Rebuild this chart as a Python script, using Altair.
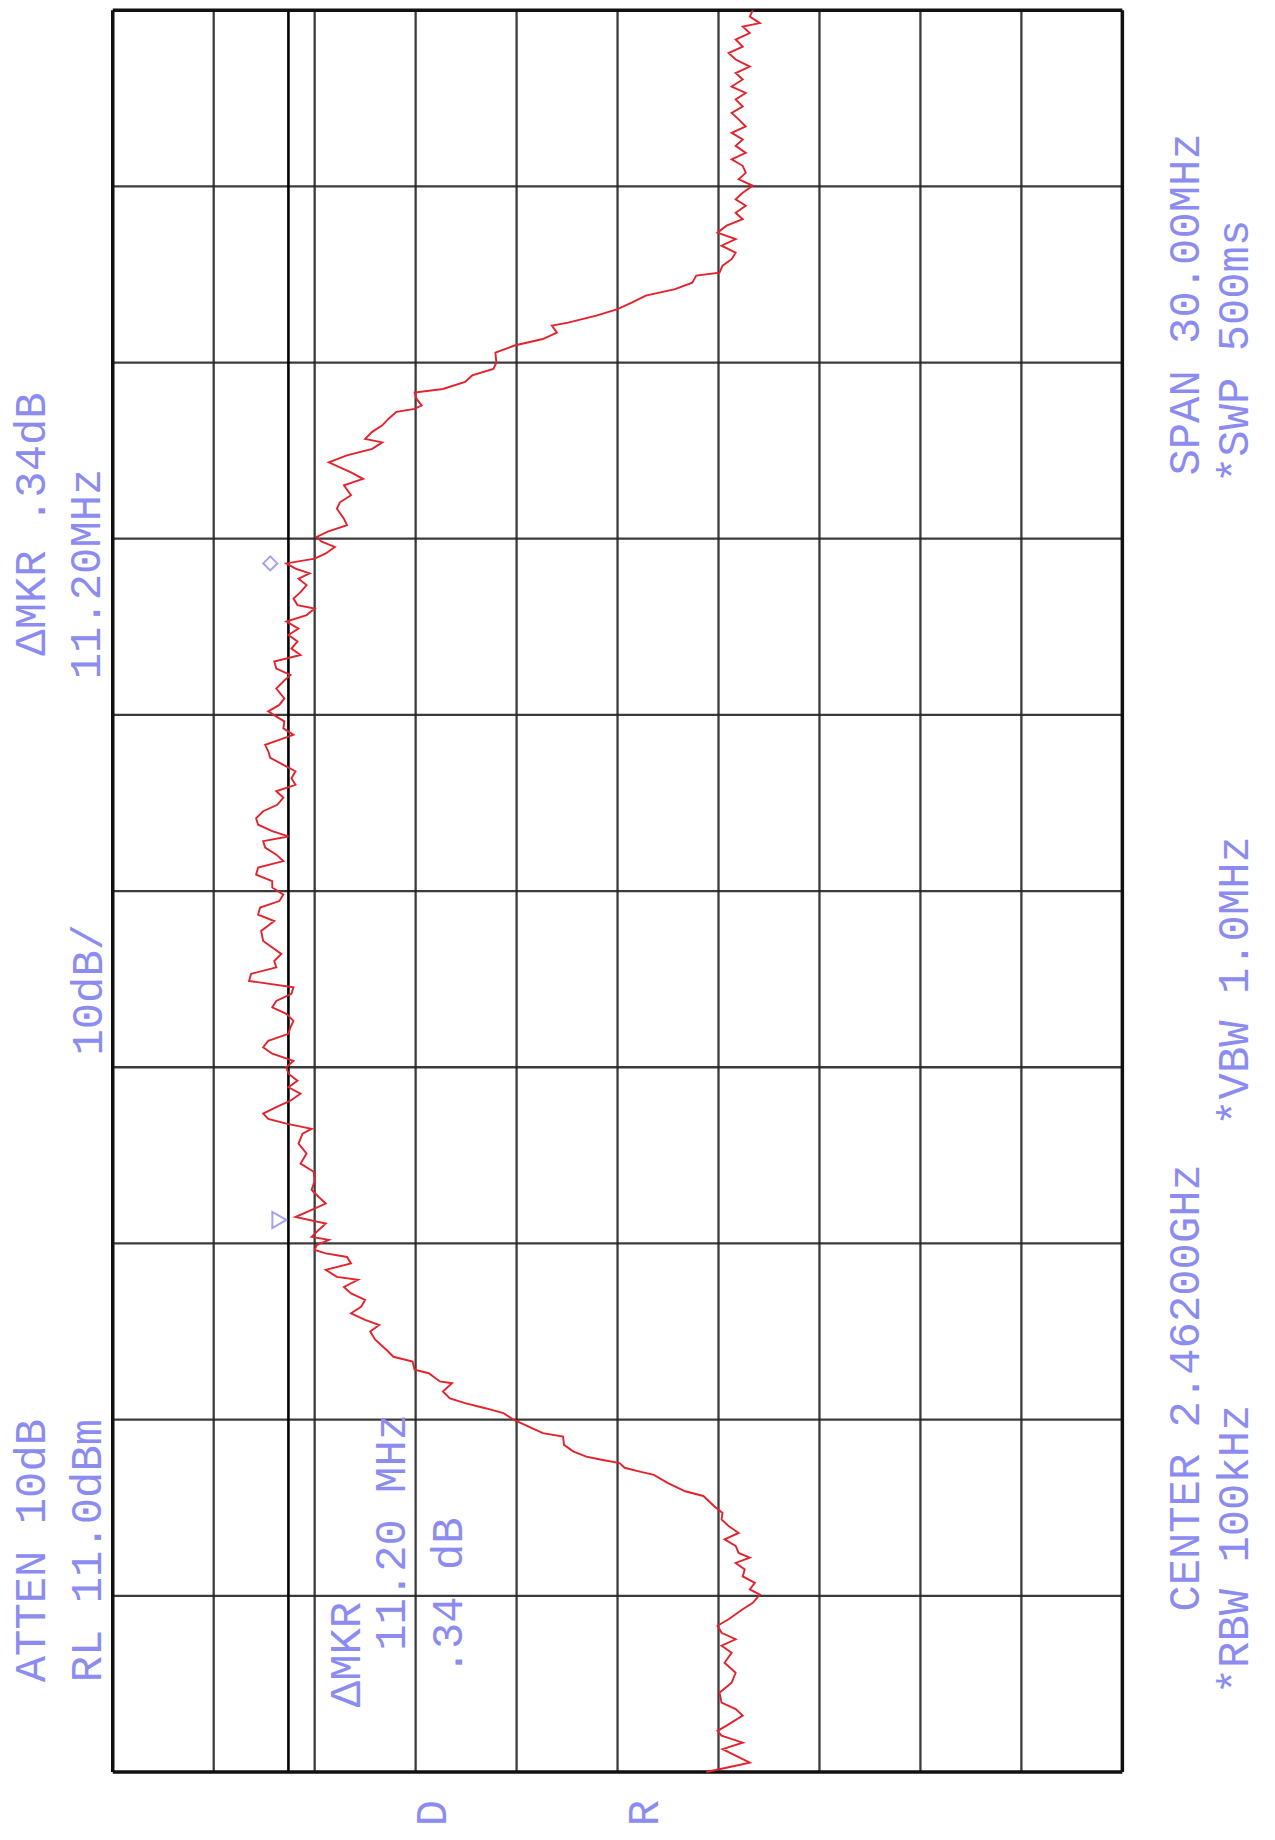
import altair as alt
import pandas as pd

# ---------------- data (frequency MHz, level dBm) ----------------
# lower noise floor and rising skirt
TRACE_LOW = [
    (2447.00, -47.8), (2447.08, -50.0), (2447.16, -52.1), (2447.28, -50.7), (2447.39, -49.4),
    (2447.50, -51.4), (2447.62, -49.3), (2447.70, -48.9), (2447.79, -49.8), (2447.96, -51.4),
    (2448.07, -50.7), (2448.18, -49.3), (2448.35, -49.1), (2448.52, -50.3), (2448.69, -50.7),
    (2448.86, -49.6), (2449.03, -50.3), (2449.15, -49.3), (2449.26, -50.7), (2449.37, -49.3),
    (2449.49, -48.9), (2449.60, -50.0), (2449.77, -51.4), (2449.88, -52.4), (2450.02, -53.1),
    (2450.11, -52.1), (2450.22, -52.6), (2450.33, -51.4), (2450.45, -51.6), (2450.56, -50.7),
    (2450.65, -52.1), (2450.73, -51.0), (2450.85, -50.7), (2450.96, -49.6), (2451.07, -51.0),
    (2451.19, -50.0), (2451.30, -49.3), (2451.41, -49.4), (2451.52, -48.6), (2451.70, -47.5),
    (2451.78, -45.7), (2451.92, -44.0), (2452.06, -42.6), (2452.12, -41.1), (2452.18, -39.7),
    (2452.26, -39.2), (2452.32, -37.3), (2452.37, -35.9), (2452.46, -34.6), (2452.57, -33.7),
    (2452.71, -33.6), (2452.77, -31.6), (2452.88, -30.2), (2452.99, -28.8), (2453.11, -27.7),
    (2453.19, -26.0), (2453.28, -23.9), (2453.36, -22.4), (2453.48, -21.7), (2453.62, -22.6),
    (2453.65, -21.4), (2453.79, -20.3), (2453.85, -18.9), (2453.99, -18.7), (2454.07, -16.8),
    (2454.19, -16.1), (2454.36, -15.0), (2454.50, -14.5), (2454.61, -15.4), (2454.70, -14.0),
]
# passband, lower half
TRACE_PASS_A = [
    (2454.81, -12.6), (2454.92, -13.6), (2455.04, -14.0), (2455.15, -12.6), (2455.26, -11.9),
    (2455.38, -13.3), (2455.43, -11.2), (2455.55, -10.1), (2455.66, -12.6), (2455.77, -12.2),
    (2455.83, -10.1), (2455.89, -9.0), (2455.97, -9.2), (2456.06, -10.4), (2456.11, -8.7),
    (2456.23, -9.4), (2456.34, -10.1), (2456.45, -7.1), (2456.57, -8.7), (2456.68, -10.1),
    (2456.79, -9.4), (2456.91, -8.7), (2457.07, -9.0), (2457.22, -8.9), (2457.36, -7.6),
    (2457.53, -8.2), (2457.70, -7.4), (2457.87, -7.8), (2457.95, -8.7), (2458.04, -6.2),
    (2458.12, -4.4), (2458.21, -3.9), (2458.32, -5.2), (2458.43, -6.6), (2458.55, -7.6),
    (2458.66, -6.4), (2458.77, -7.3), (2458.89, -6.4), (2459.00, -6.2), (2459.11, -6.9),
    (2459.23, -4.8), (2459.34, -3.9), (2459.45, -4.4), (2459.57, -6.4), (2459.68, -6.6),
    (2459.79, -6.9), (2459.91, -6.2), (2460.02, -4.8), (2460.13, -5.2), (2460.25, -6.7),
    (2460.36, -6.9), (2460.47, -2.5), (2460.59, -2.7), (2460.70, -5.2), (2460.81, -5.0),
    (2460.93, -5.7), (2461.04, -4.8), (2461.15, -3.9), (2461.32, -3.7), (2461.49, -5.0),
    (2461.60, -3.4), (2461.72, -3.6), (2461.83, -5.5), (2461.94, -5.9), (2462.06, -4.8),
]
# passband, upper half
TRACE_PASS_B = [
    (2462.17, -4.8), (2462.28, -3.2), (2462.40, -3.4), (2462.51, -5.9), (2462.62, -5.2),
    (2462.74, -4.1), (2462.85, -3.9), (2462.93, -6.4), (2463.02, -4.8), (2463.13, -3.4),
    (2463.24, -3.2), (2463.36, -3.9), (2463.47, -5.3), (2463.59, -5.9), (2463.70, -5.2),
    (2463.81, -7.1), (2463.92, -6.7), (2464.04, -7.1), (2464.15, -5.9), (2464.27, -4.6),
    (2464.38, -4.4), (2464.49, -4.1), (2464.66, -6.9), (2464.77, -5.9), (2464.89, -6.0),
    (2464.97, -5.2), (2465.06, -4.4), (2465.17, -5.5), (2465.28, -6.0), (2465.45, -5.2),
    (2465.57, -5.9), (2465.68, -6.6), (2465.79, -5.2), (2465.91, -5.0), (2466.02, -7.6),
    (2466.13, -6.7), (2466.25, -7.3), (2466.36, -6.4), (2466.47, -7.4), (2466.59, -6.2),
    (2466.70, -8.2), (2466.81, -9.0), (2466.87, -7.3), (2466.98, -6.9), (2467.09, -7.6),
    (2467.21, -8.2), (2467.32, -7.4), (2467.41, -8.5), (2467.49, -7.1), (2467.58, -6.2),
    (2467.66, -9.0), (2467.75, -10.1), (2467.86, -11.0), (2467.95, -9.7), (2468.03, -9.2),
    (2468.12, -10.3), (2468.23, -12.2), (2468.34, -11.9), (2468.51, -11.2), (2468.62, -11.5),
    (2468.74, -12.6), (2468.91, -11.9), (2469.02, -13.8), (2469.13, -12.6), (2469.30, -10.4),
    (2469.42, -12.2), (2469.53, -14.7), (2469.64, -15.7),
]
# falling skirt and upper noise floor
TRACE_HIGH = [
    (2469.70, -14.0), (2469.82, -14.7), (2469.93, -15.7), (2470.04, -16.3), (2470.16, -17.1),
    (2470.21, -18.9), (2470.27, -19.6), (2470.38, -19.1), (2470.49, -18.9), (2470.55, -21.7),
    (2470.67, -23.9), (2470.78, -24.6), (2470.89, -26.7), (2471.00, -27.0), (2471.17, -26.9),
    (2471.29, -28.8), (2471.40, -31.6), (2471.51, -33.0), (2471.63, -32.5), (2471.68, -34.1),
    (2471.80, -36.9), (2471.91, -39.0), (2472.02, -40.4), (2472.14, -41.8), (2472.25, -44.7),
    (2472.36, -46.4), (2472.48, -46.8), (2472.53, -49.1), (2472.65, -49.4), (2472.76, -50.3),
    (2472.87, -50.7), (2472.99, -49.3), (2473.10, -50.7), (2473.21, -48.9), (2473.33, -49.8),
    (2473.44, -51.4), (2473.55, -50.7), (2473.67, -51.7), (2473.78, -50.7), (2473.89, -51.4),
    (2474.01, -52.4), (2474.12, -51.0), (2474.23, -51.7), (2474.35, -51.4), (2474.46, -50.3),
    (2474.57, -51.7), (2474.69, -50.7), (2474.80, -51.4), (2474.91, -50.3), (2475.02, -51.7),
    (2475.14, -51.0), (2475.25, -50.3), (2475.36, -51.4), (2475.48, -50.7), (2475.59, -51.7),
    (2475.70, -50.3), (2475.82, -51.4), (2475.93, -50.7), (2476.04, -52.1), (2476.16, -50.7),
    (2476.27, -50.0), (2476.38, -51.4), (2476.50, -50.7), (2476.61, -52.1), (2476.72, -51.4),
    (2476.78, -53.1), (2476.89, -52.1), (2477.00, -52.4),
]

# graticule: 10 dB/div from RL 11.0 dBm, 3 MHz/div around 2462 MHz
REF_LEVEL = 11.0
BOTTOM_LEVEL = -89.0
START_FREQ = 2447.0
STOP_FREQ = 2477.0
GRID_LEVELS = [1, -9, -19, -29, -39, -49, -59, -69, -79]
GRID_FREQS = [2450, 2453, 2456, 2459, 2462, 2465, 2468, 2471, 2474]
DISPLAY_LINE = [-6.4]

# markers
MARKER_REF = [("ref", 2456.40, -5.5)]
MARKER_DELTA = [("delta", 2467.58, -4.6)]

# annotations (text, level dBm, freq MHz)
ANNOTATIONS = [
    ("ATTEN 10dB", 19.0, 2450.77),
    ("RL 11.0dBm", 13.4, 2450.77),
    ("10dB/", 13.3, 2460.32),
    ("\u0394MKR .34dB", 19.0, 2468.25),
    ("11.20MHz", 13.5, 2467.40),
    ("SPAN 30.00MHz", -95.3, 2471.99),
    ("*SWP 500ms", -100.2, 2471.19),
    ("CENTER 2.46200GHz", -95.3, 2453.54),
    ("*RBW 100kHz", -100.2, 2450.79),
    ("*VBW 1.0MHz", -100.2, 2460.47),
    ("\u0394MKR", -12.2, 2449.00),
    ("11.20 MHz", -16.7, 2451.08),
    (".34 dB", -22.3, 2449.99),
    ("D", -20.7, 2446.30),
    ("R", -41.7, 2446.30),
]

# ---------------- build ----------------
rows = []
for seg in (TRACE_LOW, TRACE_PASS_A, TRACE_PASS_B, TRACE_HIGH):
    for f, l in seg:
        rows.append({"freq": f, "level": l})
trace_df = pd.DataFrame(rows)

XS = alt.Scale(domain=[BOTTOM_LEVEL, REF_LEVEL], reverse=True, nice=False, zero=False)
YS = alt.Scale(domain=[START_FREQ, STOP_FREQ], nice=False, zero=False)

def X(field="level"):
    return alt.X(f"{field}:Q", scale=XS, axis=None)

def Y(field="freq"):
    return alt.Y(f"{field}:Q", scale=YS, axis=None)

grid_color = "#262626"

vgrid = alt.Chart(pd.DataFrame({"level": GRID_LEVELS})).mark_rule(
    color=grid_color, strokeWidth=2.3, opacity=0.9
).encode(x=X())

hgrid = alt.Chart(pd.DataFrame({"freq": GRID_FREQS})).mark_rule(
    color=grid_color, strokeWidth=2.3, opacity=0.9
).encode(y=Y())

frame_v = alt.Chart(pd.DataFrame({"level": [REF_LEVEL, BOTTOM_LEVEL]})).mark_rule(
    color="#111111", strokeWidth=3.5
).encode(x=X())

frame_h = alt.Chart(pd.DataFrame({"freq": [START_FREQ, STOP_FREQ]})).mark_rule(
    color="#111111", strokeWidth=3.5
).encode(y=Y())

dline = alt.Chart(pd.DataFrame({"level": DISPLAY_LINE})).mark_rule(
    color="#000000", strokeWidth=2.6
).encode(x=X())

trace = alt.Chart(trace_df).mark_line(
    color="#e3222b", strokeWidth=1.9, interpolate="linear"
).encode(x=X(), y=Y(), order=alt.Order("freq:Q"))

mk_ref = alt.Chart(pd.DataFrame(MARKER_REF, columns=["name", "freq", "level"])).mark_point(
    shape="triangle-right", filled=False, color="#7b7bea", size=260, strokeWidth=2
).encode(x=X(), y=Y())

mk_delta = alt.Chart(pd.DataFrame(MARKER_DELTA, columns=["name", "freq", "level"])).mark_point(
    shape="diamond", filled=False, color="#7b7bea", size=200, strokeWidth=2
).encode(x=X(), y=Y())

ann_df = pd.DataFrame(ANNOTATIONS, columns=["text", "level", "freq"])
texts = alt.Chart(ann_df).mark_text(
    angle=270, align="center", baseline="middle",
    font="Liberation Mono", fontSize=44, color="#8c8cf0"
).encode(x=X(), y=Y(), text="text:N")

chart = alt.layer(
    vgrid, hgrid, dline, frame_v, frame_h, trace, mk_ref, mk_delta, texts
).properties(
    width=1012, height=1766,
    autosize=alt.AutoSizeParams(type="none"),
    padding={"left": 105, "top": 0, "right": 145, "bottom": 66},
    background="white",
).configure_view(stroke=None)

chart.save("out.html", embed_options={"renderer": "svg", "actions": False})
